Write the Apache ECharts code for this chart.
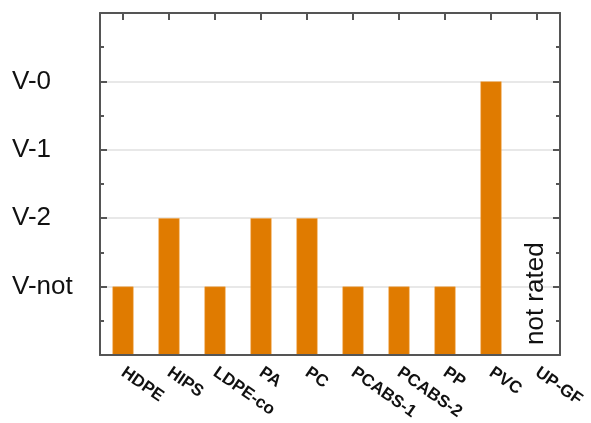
<!DOCTYPE html>
<html><head><meta charset="utf-8">
<script src="https://cdn.jsdelivr.net/npm/echarts@6/dist/echarts.min.js"></script>
<style>html,body{margin:0;padding:0;background:#fff}#c{width:591px;height:423px}</style>
</head><body><div id="c"></div>
<script>
var categories = ['HDPE','HIPS','LDPE-co','PA','PC','PCABS-1','PCABS-2','PP','PVC','UP-GF'];
var ratings = [1, 2, 1, 2, 2, 1, 1, 1, 4, null];
var yTickLabels = {1:'V-not', 2:'V-2', 3:'V-1', 4:'V-0'};
var noteText = 'not rated';
var noteCategory = 'UP-GF';

var chart = echarts.init(document.getElementById('c'), null, {renderer:'canvas'});
var axisCol = '#555';
var opt = {
  animation:false,
  grid:{left:100, right:31, top:13, bottom:68},
  xAxis:[{
    type:'category', data:categories, position:'bottom', z:5,
    axisLine:{onZero:false, lineStyle:{color:axisCol,width:2}},
    axisTick:{show:false},
    axisLabel:{rotate:-35, interval:0, fontFamily:'Liberation Sans, Arial', fontWeight:'bold', fontSize:17, color:'#111', margin:16}
  },{
    type:'category', data:categories, position:'top', z:5,
    axisLine:{onZero:false, lineStyle:{color:axisCol,width:2}},
    axisTick:{show:true, inside:true, alignWithLabel:true, interval:0, length:7, lineStyle:{color:axisCol,width:2}},
    axisLabel:{show:false, interval:0}
  }],
  yAxis:[{
    type:'value', min:0, max:5, interval:1, position:'left',
    axisLine:{show:true, onZero:false, lineStyle:{color:axisCol,width:2}},
    axisTick:{show:true, inside:true, length:7, lineStyle:{color:axisCol,width:2}},
    minorTick:{show:true, splitNumber:2, length:4, lineStyle:{color:axisCol,width:2}},
    splitLine:{show:true, lineStyle:{color:'#e0e0e0', width:1.5}},
    axisLabel:{formatter:function(v){return yTickLabels[v]||'';}, align:'left', margin:88,
      fontFamily:'Liberation Sans, Arial', fontSize:26, color:'#111'}
  },{
    type:'value', min:0, max:5, interval:1, position:'right', z:5,
    axisLine:{show:true, onZero:false, lineStyle:{color:axisCol,width:2}},
    axisTick:{show:true, inside:true, length:7, lineStyle:{color:axisCol,width:2}},
    minorTick:{show:true, splitNumber:2, length:4, lineStyle:{color:axisCol,width:2}},
    splitLine:{show:false},
    axisLabel:{show:false}
  }],
  series:[{
    type:'bar', data:ratings, barWidth:21, xAxisIndex:0, yAxisIndex:0,
    itemStyle:{color:'#e07b00', borderColor:'#f0a040', borderWidth:0.5}
  }]
};
chart.setOption(opt);
var p = chart.convertToPixel({xAxisIndex:0, yAxisIndex:0}, [noteCategory, 0]);
chart.setOption({graphic:[{
  type:'text', x:p[0]+12, y:p[1]-10, rotation:Math.PI/2,
  style:{text:noteText, fontFamily:'Liberation Sans, Arial', fontSize:26, fill:'#111', textAlign:'left', textVerticalAlign:'bottom'}
}]});
</script></body></html>
